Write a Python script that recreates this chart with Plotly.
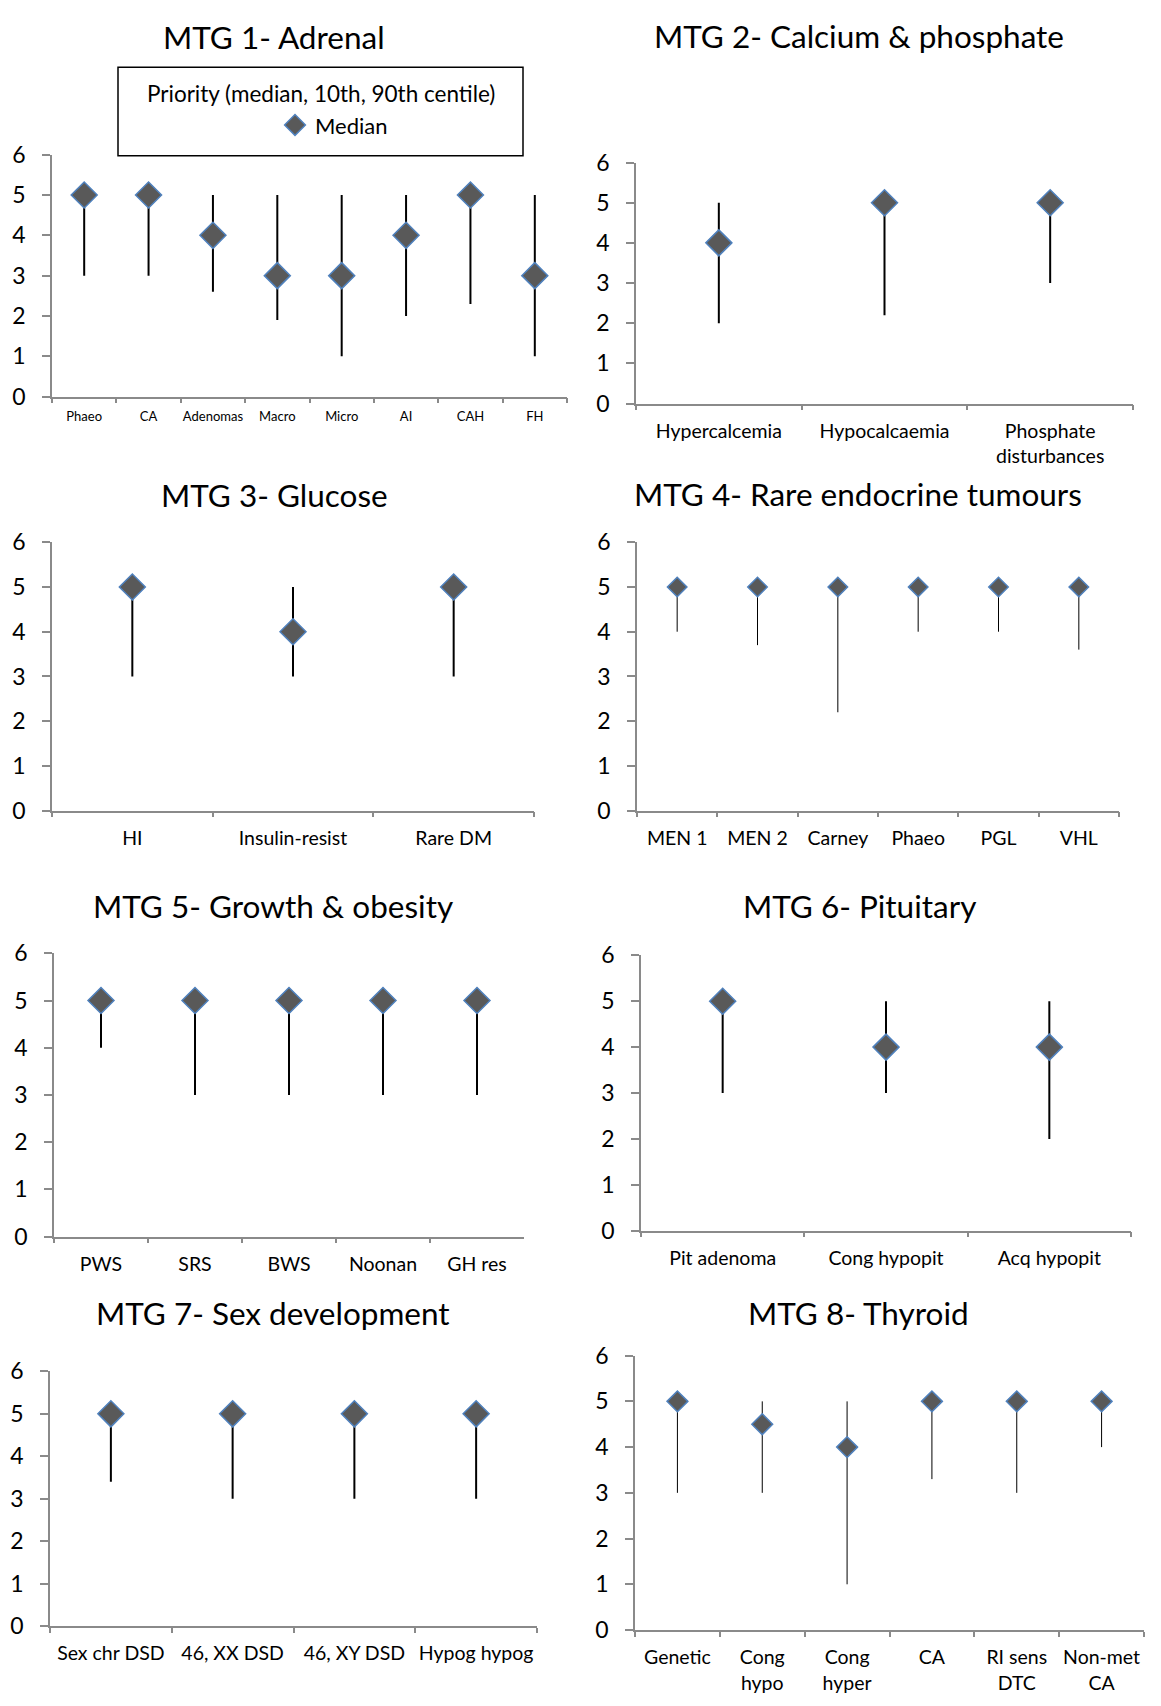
import plotly.graph_objects as go

W, H = 1161, 1706

# ---- Priority scores per topic group: median, 10th and 90th centile ----
adrenal_cats = ["Phaeo", "CA", "Adenomas", "Macro", "Micro", "AI", "CAH", "FH"]
adrenal_median = [5, 5, 4, 3, 3, 4, 5, 3]
adrenal_p10 = [3, 3, 2.6, 1.9, 1, 2, 2.3, 1]
adrenal_p90 = [5, 5, 5, 5, 5, 5, 5, 5]

calcium_cats = ["Hypercalcemia", "Hypocalcaemia", "Phosphate<br>disturbances"]
calcium_median = [4, 5, 5]
calcium_p10 = [2, 2.2, 3]
calcium_p90 = [5, 5, 5]

glucose_cats = ["HI", "Insulin-resist", "Rare DM"]
glucose_median = [5, 4, 5]
glucose_p10 = [3, 3, 3]
glucose_p90 = [5, 5, 5]

tumour_cats = ["MEN 1", "MEN 2", "Carney", "Phaeo", "PGL", "VHL"]
tumour_median = [5, 5, 5, 5, 5, 5]
tumour_p10 = [4, 3.7, 2.2, 4, 4, 3.6]
tumour_p90 = [5, 5, 5, 5, 5, 5]

growth_cats = ["PWS", "SRS", "BWS", "Noonan", "GH res"]
growth_median = [5, 5, 5, 5, 5]
growth_p10 = [4, 3, 3, 3, 3]
growth_p90 = [5, 5, 5, 5, 5]

pituitary_cats = ["Pit adenoma", "Cong hypopit", "Acq hypopit"]
pituitary_median = [5, 4, 4]
pituitary_p10 = [3, 3, 2]
pituitary_p90 = [5, 5, 5]

sexdev_cats = ["Sex chr DSD", "46, XX DSD", "46, XY DSD", "Hypog hypog"]
sexdev_median = [5, 5, 5, 5]
sexdev_p10 = [3.4, 3, 3, 3]
sexdev_p90 = [5, 5, 5, 5]

thyroid_cats = ["Genetic", "Cong<br>hypo", "Cong<br>hyper", "CA", "RI sens<br>DTC", "Non-met<br>CA"]
thyroid_median = [5, 4.5, 4, 5, 5, 5]
thyroid_p10 = [3, 3, 1, 3.3, 3, 4]
thyroid_p90 = [5, 5, 5, 5, 5, 5]

titles = [
    "MTG 1- Adrenal", "MTG 2- Calcium & phosphate", "MTG 3- Glucose",
    "MTG 4- Rare endocrine tumours", "MTG 5- Growth & obesity",
    "MTG 6- Pituitary", "MTG 7- Sex development", "MTG 8- Thyroid",
]
groups = [
    (adrenal_cats, adrenal_median, adrenal_p10, adrenal_p90),
    (calcium_cats, calcium_median, calcium_p10, calcium_p90),
    (glucose_cats, glucose_median, glucose_p10, glucose_p90),
    (tumour_cats, tumour_median, tumour_p10, tumour_p90),
    (growth_cats, growth_median, growth_p10, growth_p90),
    (pituitary_cats, pituitary_median, pituitary_p10, pituitary_p90),
    (sexdev_cats, sexdev_median, sexdev_p10, sexdev_p90),
    (thyroid_cats, thyroid_median, thyroid_p10, thyroid_p90),
]

# panel frames in pixels: (left, right, top, bottom), title centre,
# label size, label standoff, marker size, whisker width
panels = [
    ((52, 567, 142, 388), (274, 22), 13, 7, 20, 2),
    ((636, 1133, 150, 395), (859, 21), 19.5, 9, 20, 2),
    ((52, 534, 536, 809), (274, 488), 19.5, 9, 20, 2),
    ((637, 1119, 536, 809), (858, 487), 19.5, 9, 15, 1),
    ((54, 524, 954, 1242), (273, 906), 19.5, 9, 20, 2),
    ((641, 1131, 956, 1236), (859, 906), 19.5, 9, 20, 2),
    ((50, 537, 1379, 1638), (273, 1320), 19.5, 9, 20, 2),
    ((635, 1144, 1363, 1642), (858, 1320), 19.5, 9, 16, 1),
]


def fx(px):
    return px / W


def fy(py):
    return 1 - py / H


AXIS_GREY = "#8a8a8a"
FONT = "Lato"

fig = go.Figure()
layout = dict(
    width=W, height=H,
    margin=dict(l=0, r=0, t=0, b=0),
    paper_bgcolor="white", plot_bgcolor="white",
    font=dict(family=FONT, color="black"),
    annotations=[], shapes=[],
)

for i, ((cats, med, lo, hi), (frame, tpos, lab_size, lab_gap, msize, thick)) in enumerate(zip(groups, panels)):
    n = i + 1
    suffix = "" if n == 1 else str(n)
    x0, x1, yt, yb = frame
    fig.add_trace(go.Scatter(
        x=cats, y=med,
        mode="markers",
        name="Median",
        showlegend=(n == 1),
        marker=dict(symbol="diamond", size=msize, color="#595959",
                    line=dict(color="#4f81bd", width=1.5)),
        error_y=dict(type="data", symmetric=False,
                     array=[h - m for h, m in zip(hi, med)],
                     arrayminus=[m - l for m, l in zip(med, lo)],
                     width=0, thickness=thick, color="black"),
        xaxis="x" + suffix, yaxis="y" + suffix,
        cliponaxis=False,
        hoverinfo="skip",
    ))
    layout["xaxis" + suffix] = dict(
        domain=[fx(x0), fx(x1)], anchor="y" + suffix,
        type="category", range=[-0.5, len(cats) - 0.5],
        tickson="boundaries", ticks="outside", ticklen=5, tickwidth=1.5,
        tickcolor=AXIS_GREY, showline=True, linecolor=AXIS_GREY, linewidth=1.5,
        showgrid=False, zeroline=False, tickangle=0,
        tickfont=dict(family=FONT, size=lab_size, color="black"),
        ticklabelstandoff=lab_gap,
    )
    layout["yaxis" + suffix] = dict(
        domain=[fy(yb), fy(yt)], anchor="x" + suffix,
        range=[0, 6], tickvals=[0, 1, 2, 3, 4, 5, 6],
        ticks="outside", ticklen=8, tickwidth=1.5, tickcolor=AXIS_GREY,
        showline=True, linecolor=AXIS_GREY, linewidth=1.5,
        showgrid=False, zeroline=False,
        tickfont=dict(family=FONT, size=23, color="black"),
        ticklabelstandoff=12,
    )
    layout["annotations"].append(dict(
        text=titles[i], xref="paper", yref="paper",
        x=fx(tpos[0]), y=fy(tpos[1]), xanchor="center", yanchor="middle",
        showarrow=False, font=dict(family=FONT, size=31.5, color="black"),
    ))

# key box in the first panel
layout["shapes"].append(dict(
    type="rect", xref="paper", yref="paper",
    x0=fx(118), x1=fx(523), y0=fy(143), y1=fy(53),
    line=dict(color="black", width=1.5), fillcolor="white", layer="above",
))
layout["annotations"].append(dict(
    text="Priority (median, 10th, 90th centile)", xref="paper", yref="paper",
    x=fx(321), y=fy(80), xanchor="center", yanchor="middle",
    showarrow=False, font=dict(family=FONT, size=22.5, color="black"),
))
layout["legend"] = dict(
    x=fx(275), y=fy(112), xanchor="left", yanchor="middle",
    bgcolor="rgba(0,0,0,0)", borderwidth=0,
    font=dict(family=FONT, size=22, color="black"),
    itemwidth=30, itemclick=False, itemdoubleclick=False,
)

fig.update_layout(**layout)
fig.write_html("out.html")
